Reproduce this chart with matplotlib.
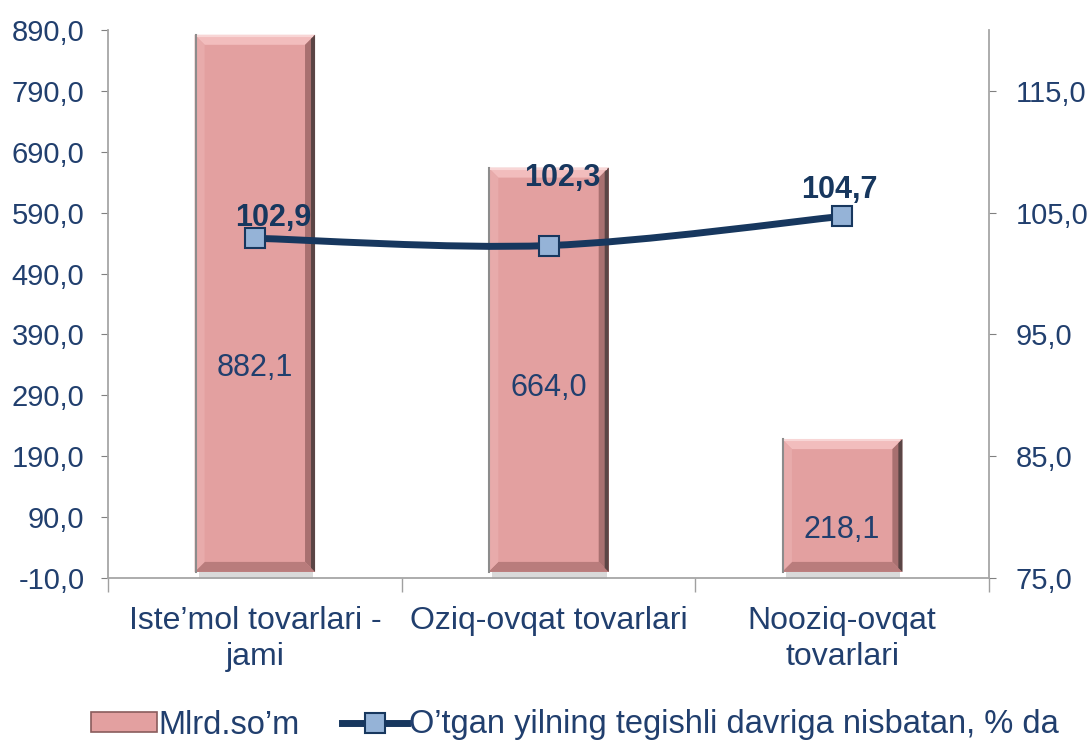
import matplotlib
matplotlib.use('Agg')
import matplotlib.pyplot as plt
import numpy as np
from matplotlib.patches import Polygon, Patch, PathPatch, Rectangle
from matplotlib.lines import Line2D
from matplotlib.path import Path
from matplotlib.transforms import IdentityTransform

# ---------------- data ----------------
categories = ["Iste\u2019mol tovarlari -\njami", "Oziq-ovqat tovarlari", "Nooziq-ovqat\ntovarlari"]
bar_values = [882.1, 664.0, 218.1]
pct_values = [102.9, 102.3, 104.7]
left_ticks = [-10, 90, 190, 290, 390, 490, 590, 690, 790, 890]
right_ticks = [75, 85, 95, 105, 115]
bar_series_name = "Mlrd.so\u2019m"
line_series_name = "O\u2019tgan yilning tegishli davriga nisbatan, % da"

# ---------------- style ----------------
NAVY = '#213F6E'
LINE_C = '#17375E'
MARK_FILL = '#95B3D7'
BAR_C = '#E3A0A0'
AX_GRAY = '#A6A6A6'
REG = ['Liberation Sans', 'DejaVu Sans']

def fmt(v):
    return f"{v:.1f}".replace('.', ',')

W, H = 1091, 747
fig = plt.figure(figsize=(W / 100, H / 100), dpi=100)
ax = fig.add_axes([108 / W, 169 / H, 881 / W, 548 / H])
ax2 = ax.twinx()
ax.set_zorder(1)
ax2.set_zorder(2)
ax.patch.set_visible(False)
ax2.patch.set_visible(False)

x = np.arange(len(categories))
ax.set_xlim(-0.5, len(categories) - 0.5)
ax.set_ylim(-10, 890)
ax2.set_ylim(75, 120)

bars = ax.bar(x, bar_values, width=0.41, color=BAR_C, zorder=2)

# bevel effect (drawn in pixel space around each bar)
b = 10
for r in bars:
    (x0, y0) = ax.transData.transform((r.get_x(), r.get_y()))
    (x1, y1) = ax.transData.transform((r.get_x() + r.get_width(), r.get_y() + r.get_height()))
    kw = dict(transform=IdentityTransform(), zorder=3, lw=0)
    ax.add_artist(Polygon([(x0, y1), (x1, y1), (x1 - b, y1 - b), (x0 + b, y1 - b)], closed=True, fc='#F2BDBD', **kw))
    ax.add_artist(Polygon([(x0, y0), (x1, y0), (x1 - b, y0 + b), (x0 + b, y0 + b)], closed=True, fc='#B97C7C', **kw))
    ax.add_artist(Polygon([(x0, y0), (x0, y1), (x0 + b, y1 - b), (x0 + b, y0 + b)], closed=True, fc='#E8ABAB', **kw))
    ax.add_artist(Polygon([(x1, y0), (x1, y1), (x1 - b, y1 - b), (x1 - b, y0 + b)], closed=True, fc='#A87070', **kw))
    ax.add_artist(Polygon([(x1, y0), (x1, y1), (x1 - 4, y1 - 4), (x1 - 4, y0 + 4)], closed=True, fc='#5A4545', **kw))
    ax.add_artist(Line2D([x0 + 1, x0 + 1], [y0, y1], color='#8C8C8C', lw=1.5, transform=IdentityTransform(), zorder=3))
    ax.add_artist(Line2D([x0 + 3, x1 - 3], [y1 - 1, y1 - 1], color='#F8D6D6', lw=1.5, transform=IdentityTransform(), zorder=3))
    ax.add_artist(Rectangle((x0 + 4, y0 - 7), (x1 - x0) - 6, 7, transform=IdentityTransform(),
                            fc='#D0D0D0', lw=0, zorder=1, clip_on=False, alpha=0.8))

# bar value labels
bar_label_frac = [0.38, 0.455, 0.315]
for xi, v, f in zip(x, bar_values, bar_label_frac):
    ax.text(xi, v * f, fmt(v), ha='center', va='center', color=NAVY, fontsize=22,
            family=REG, zorder=5)

# smooth line (Catmull-Rom -> cubic Bezier)
pts = np.column_stack([x, pct_values]).astype(float)
verts = [tuple(pts[0])]
codes = [Path.MOVETO]
n = len(pts)
for i in range(n - 1):
    p0 = pts[i - 1] if i > 0 else pts[i]
    p1 = pts[i]
    p2 = pts[i + 1]
    p3 = pts[i + 2] if i + 2 < n else pts[i + 1]
    c1 = p1 + (p2 - p0) / 6.0
    c2 = p2 - (p3 - p1) / 6.0
    verts += [tuple(c1), tuple(c2), tuple(p2)]
    codes += [Path.CURVE4] * 3
ax2.add_patch(PathPatch(Path(verts, codes), fc='none', ec=LINE_C, lw=5, zorder=4,
                        capstyle='round', joinstyle='round'))
ax2.plot(x, pct_values, ls='none', marker='s', ms=15, mfc=MARK_FILL, mec=LINE_C, mew=1.5, zorder=6)

line_offsets_px = [(18, 20), (14, 68), (-3, 26)]
for xi, v, (dx, dy) in zip(x, pct_values, line_offsets_px):
    ax2.annotate(fmt(v), (xi, v), xytext=(dx * 0.72, dy * 0.72), textcoords='offset points',
                 ha='center', va='center', color=LINE_C, fontsize=22, fontweight='bold',
                 family=REG, zorder=7)

# axes styling
for a in (ax, ax2):
    a.spines['top'].set_visible(False)
    for s in ('left', 'right', 'bottom'):
        a.spines[s].set_color(AX_GRAY)
        a.spines[s].set_linewidth(1.3)
ax.spines['right'].set_visible(False)
ax2.spines['left'].set_visible(False)
ax2.spines['bottom'].set_visible(False)

ax.set_yticks(left_ticks)
ax.set_yticklabels([fmt(t) for t in left_ticks], family=REG, fontsize=21, color=NAVY)
ax.tick_params(axis='y', length=5, color='#808080', pad=12)
ax2.set_yticks(right_ticks)
ax2.set_yticklabels([fmt(t) for t in right_ticks], family=REG, fontsize=21, color=NAVY)
ax2.tick_params(axis='y', length=5, color='#808080', pad=14)

ax.set_xticks(x)
ax.set_xticklabels(categories, family=REG, fontsize=23, color=NAVY, linespacing=1.25)
ax.tick_params(axis='x', length=0, pad=20)
ax.set_xticks(np.arange(-0.5, len(categories)), minor=True)
ax.tick_params(axis='x', which='minor', length=10, color='#A0A0A0', width=1)

# legend
handles = [Patch(fc=BAR_C, ec='#8A5C5C', lw=1.2),
           Line2D([], [], color=LINE_C, lw=5, marker='s', ms=15, mfc=MARK_FILL, mec=LINE_C, mew=1.5)]
fig.legend(handles, [bar_series_name, line_series_name], loc='center',
           bbox_to_anchor=(0.527, 1 - 725 / H), ncol=2, frameon=False,
           prop={'family': REG, 'size': 23.5}, labelcolor=NAVY,
           handlelength=2.0, handletextpad=0.05, columnspacing=1.3, handleheight=0.6)

fig.savefig('out.png', dpi=100)
